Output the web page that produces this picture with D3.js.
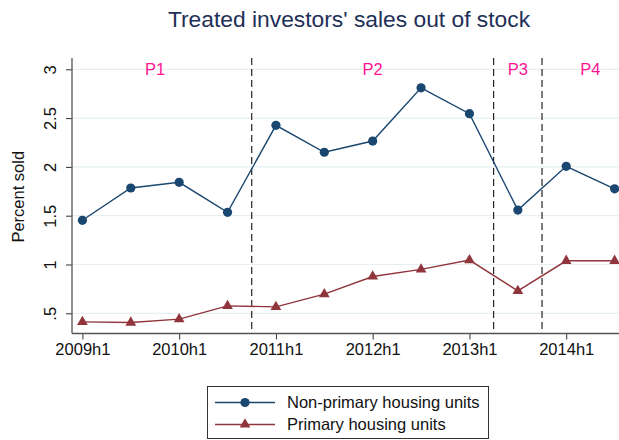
<!DOCTYPE html>
<html>
<head>
<meta charset="utf-8">
<script src="https://cdn.jsdelivr.net/npm/d3@7"></script>
<style>
  body { margin: 0; background: #fff; }
  svg { display: block; font-family: "Liberation Sans", Arial, sans-serif; }
</style>
</head>
<body>
<div id="chart"></div>
<script>

// data
let periods = ["2009h1","2009h2","2010h1","2010h2","2011h1","2011h2","2012h1","2012h2","2013h1","2013h2","2014h1","2014h2"];
let nonPrimary = [1.453, 1.784, 1.842, 1.535, 2.426, 2.15, 2.265, 2.81, 2.545, 1.558, 2.006, 1.775];
let primary = [0.412, 0.405, 0.44, 0.576, 0.566, 0.696, 0.877, 0.95, 1.045, 0.73, 1.038, 1.038];
let yTicks = [0.5, 1, 1.5, 2, 2.5, 3];
let xTicks = [0, 2, 4, 6, 8, 10];
let breaks = [3.5, 8.5, 9.5];
let phaseLabels = ["P1", "P2", "P3", "P4"];
let phasePos = [1.5, 6, 9, 10.5];
let seriesNames = ["Non-primary housing units", "Primary housing units"];

let W = 619, H = 440;
let navy = "#1a476f", maroon = "#90353b";
let fs = 16.5;

let svg = d3.select("#chart").append("svg")
    .attr("width", W)
    .attr("height", H);

let plotL = 72, plotR = 625, plotT = 58, plotB = 333.5;

let x = d3.scaleLinear()
    .domain([-0.215, 11.215])
    .range([plotL, plotR]);

let y = d3.scaleLinear()
    .domain([0.5, 3])
    .range([313.3, 69.3]);

// title
svg.append("text")
    .attr("x", 349)
    .attr("y", 27)
    .attr("text-anchor", "middle")
    .attr("font-size", 22.8)
    .attr("fill", "#1e2f58")
    .text("Treated investors' sales out of stock");

// gridlines
svg.append("g").selectAll("line")
  .data(yTicks)
  .enter().append("line")
    .attr("x1", plotL)
    .attr("x2", W)
    .attr("y1", d => y(d))
    .attr("y2", d => y(d))
    .attr("stroke", "#e6eff1")
    .attr("stroke-width", 1.2);

// y axis
let yAxis = svg.append("g")
    .attr("transform", `translate(${plotL},0)`)
    .call(d3.axisLeft(y).tickValues(yTicks).tickSize(6).tickPadding(3)
      .tickFormat(d => d === 0.5 ? ".5" : d3.format("~g")(d)));
yAxis.select(".domain").remove();
yAxis.selectAll(".tick line").attr("stroke", "#333");
yAxis.selectAll(".tick text")
    .attr("x", null).attr("y", null)
    .attr("transform", "translate(-22,0) rotate(-90)")
    .attr("dy", "0.35em")
    .attr("text-anchor", "middle")
    .attr("font-size", fs)
    .attr("fill", "#111");

svg.append("line")
    .attr("x1", plotL).attr("x2", plotL)
    .attr("y1", plotT).attr("y2", plotB)
    .attr("stroke", "#555").attr("stroke-width", 1.3);

// x axis
let xAxis = svg.append("g")
    .attr("transform", `translate(0,${plotB})`)
    .call(d3.axisBottom(x).tickValues(xTicks).tickSize(6).tickPadding(4)
      .tickFormat(i => periods[i]));
xAxis.select(".domain").remove();
xAxis.selectAll(".tick line").attr("stroke", "#333");
xAxis.selectAll(".tick text")
    .attr("font-size", fs)
    .attr("fill", "#111");

svg.append("line")
    .attr("x1", plotL).attr("x2", W)
    .attr("y1", plotB).attr("y2", plotB)
    .attr("stroke", "#555").attr("stroke-width", 1.3);

// y title
svg.append("text")
    .attr("transform", `translate(18,${(plotT + plotB) / 2 + 1}) rotate(-90)`)
    .attr("text-anchor", "middle")
    .attr("dy", "0.35em")
    .attr("font-size", fs)
    .attr("fill", "#111")
    .text("Percent sold");

// period breaks
svg.append("g").selectAll("line")
  .data(breaks)
  .enter().append("line")
    .attr("x1", d => x(d))
    .attr("x2", d => x(d))
    .attr("y1", plotT)
    .attr("y2", plotB)
    .attr("stroke", "#111")
    .attr("stroke-width", 1.1)
    .attr("stroke-dasharray", "7,4");

svg.append("g").selectAll("text")
  .data(phaseLabels)
  .enter().append("text")
    .attr("x", (d, i) => x(phasePos[i]))
    .attr("y", y(3))
    .attr("dy", "0.35em")
    .attr("text-anchor", "middle")
    .attr("font-size", fs)
    .attr("fill", "#ff1493")
    .text(d => d);

// lines
let line = d3.line()
    .x((d, i) => x(i))
    .y(d => y(d));

svg.append("path")
    .datum(primary)
    .attr("d", line)
    .attr("fill", "none")
    .attr("stroke", maroon)
    .attr("stroke-width", 1.4);

svg.append("path")
    .datum(nonPrimary)
    .attr("d", line)
    .attr("fill", "none")
    .attr("stroke", navy)
    .attr("stroke-width", 1.4);

let tri = d3.symbol().type(d3.symbolTriangle).size(50);

svg.append("g").selectAll("path")
  .data(primary)
  .enter().append("path")
    .attr("d", tri)
    .attr("transform", (d, i) => `translate(${x(i)},${y(d)})`)
    .attr("fill", maroon);

svg.append("g").selectAll("circle")
  .data(nonPrimary)
  .enter().append("circle")
    .attr("cx", (d, i) => x(i))
    .attr("cy", d => y(d))
    .attr("r", 4.6)
    .attr("fill", navy);

// legend
let lg = svg.append("g");
lg.append("rect")
    .attr("x", 207.5).attr("y", 386.5)
    .attr("width", 281).attr("height", 52)
    .attr("fill", "#fff")
    .attr("stroke", "#333")
    .attr("stroke-width", 1);

let legRows = [
  {name: seriesNames[0], color: navy, marker: "circle", y: 402.5},
  {name: seriesNames[1], color: maroon, marker: "tri", y: 424.5}
];

legRows.forEach(r => {
  lg.append("line")
    .attr("x1", 215).attr("x2", 275)
    .attr("y1", r.y).attr("y2", r.y)
    .attr("stroke", r.color).attr("stroke-width", 1.4);
  if (r.marker === "circle") {
    lg.append("circle").attr("cx", 245).attr("cy", r.y).attr("r", 4.6).attr("fill", r.color);
  } else {
    lg.append("path").attr("d", tri).attr("transform", `translate(245,${r.y})`).attr("fill", r.color);
  }
  lg.append("text")
    .attr("x", 287).attr("y", r.y)
    .attr("dy", "0.35em")
    .attr("font-size", fs)
    .attr("fill", "#111")
    .text(r.name);
});

</script>
</body>
</html>
